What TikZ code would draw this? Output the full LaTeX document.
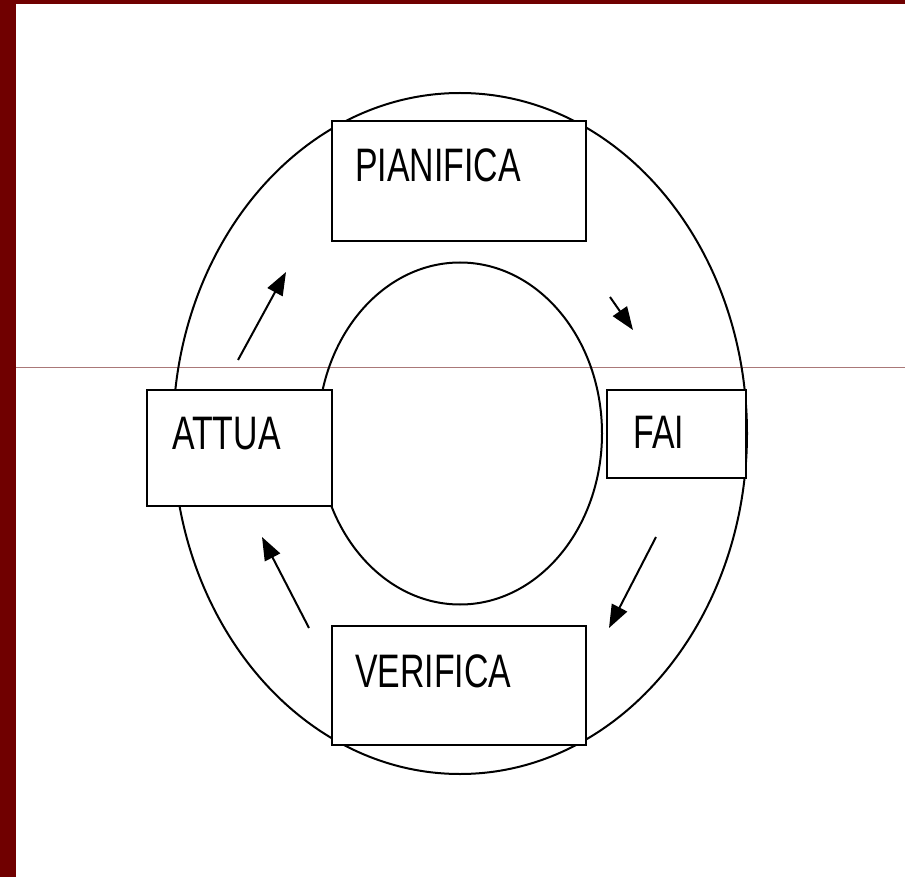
\documentclass[tikz,border=0pt]{standalone}
\usepackage{fontspec}
\setmainfont{Liberation Sans}
\usetikzlibrary{arrows.meta}
\definecolor{frame}{RGB}{112,0,0}
\definecolor{rule}{RGB}{170,120,120}
\tikzset{
  ring/.style={draw=black, line width=2pt},
  box/.style={draw=black, line width=2pt, fill=white, rectangle, inner sep=0pt},
  lbl/.style={anchor=base west, inner sep=0pt, font=\fontsize{47}{50}\selectfont},
  flow/.style={line width=2pt, -{Triangle[length=23pt,width=17pt]}}
}
\newcommand{\narrow}[1]{\scalebox{0.72}[1]{#1}}
\begin{document}
\begin{tikzpicture}[x=1pt,y=-1pt]
\useasboundingbox (0,0) rectangle (905,877);
\fill[white] (0,0) rectangle (905,877);
\fill[frame] (0,0) rectangle (16,877);
\fill[frame] (0,0) rectangle (905,4);
\draw[rule, line width=0.8pt] (16,367) -- (905,367);
\draw[ring] (460,433.5) ellipse [x radius=287, y radius=340.5];
\draw[ring] (460,433.5) ellipse [x radius=142, y radius=171];
\node[box, minimum width=254pt, minimum height=120pt] (pian) at (459,181) {};
\node[box, minimum width=185pt, minimum height=116pt] (attua) at (239.5,448) {};
\node[box, minimum width=139pt, minimum height=88pt] (fai) at (676.5,434) {};
\node[box, minimum width=254pt, minimum height=119pt] (verif) at (459,685.5) {};
\node[lbl] (tpian) at (355,182) {\narrow{PIANIFICA}};
\node[lbl] (tattua) at (172,449) {\narrow{ATTUA}};
\node[lbl] (tfai) at (633,448) {\narrow{FAI}};
\node[lbl] (tverif) at (355,687) {\narrow{VERIFICA}};
\coordinate (a1s) at (238,360); \coordinate (a1e) at (286,272);
\coordinate (a2s) at (610,297); \coordinate (a2e) at (633,330);
\coordinate (a3s) at (656,537); \coordinate (a3e) at (609,628);
\coordinate (a4s) at (309,628); \coordinate (a4e) at (262,537);
\draw[flow] (a1s) -- (a1e);
\draw[flow] (a2s) -- (a2e);
\draw[flow] (a3s) -- (a3e);
\draw[flow] (a4s) -- (a4e);
\end{tikzpicture}
\end{document}
